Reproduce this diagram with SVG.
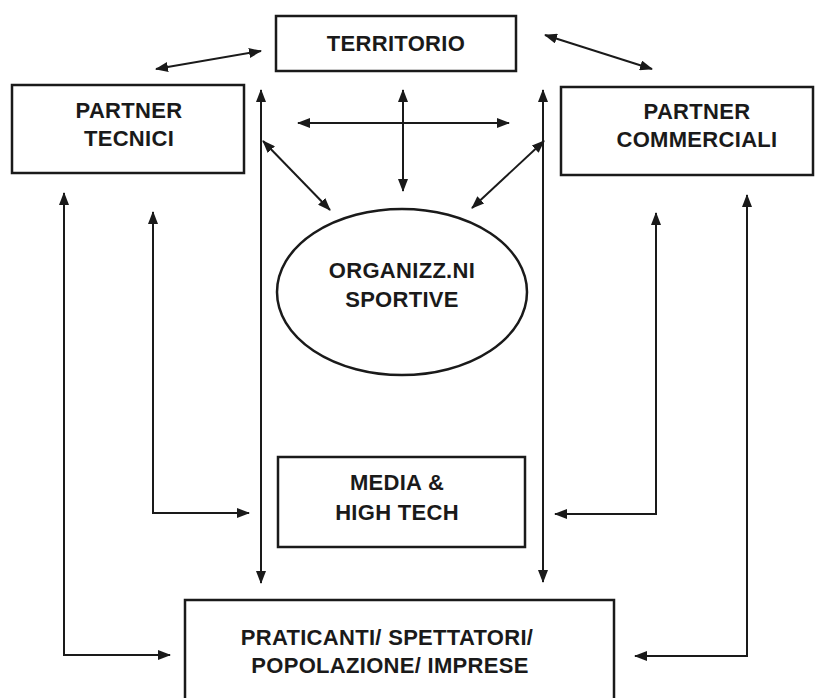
<svg xmlns="http://www.w3.org/2000/svg" width="817" height="698" viewBox="0 0 817 698">
<style>
.box{fill:#fff;stroke:#1a1a1a;stroke-width:2.5}
.lbl{font-family:"Liberation Sans",Arial,sans-serif;font-weight:bold;font-size:22px;fill:#1a1a1a;text-anchor:middle;letter-spacing:0.3px}
.c{fill:none;stroke:#1a1a1a;stroke-width:2}
</style>
<defs>
<marker id="ah" markerUnits="userSpaceOnUse" markerWidth="13" markerHeight="10" refX="12" refY="5" orient="auto-start-reverse">
<path d="M0,0 L13,5 L0,10 z" fill="#1a1a1a"/>
</marker>
</defs>
<rect width="817" height="698" fill="#fff"/>
<g id="territorio">
<rect class="box" x="276" y="16" width="240" height="55"/>
<text class="lbl" x="396" y="51">TERRITORIO</text>
</g>
<g id="partner-tecnici">
<rect class="box" x="12" y="85" width="232" height="88"/>
<text class="lbl" x="129" y="118">PARTNER</text>
<text class="lbl" x="129" y="146">TECNICI</text>
</g>
<g id="partner-commerciali">
<rect class="box" x="561" y="87" width="252" height="88"/>
<text class="lbl" x="697" y="119">PARTNER</text>
<text class="lbl" x="697" y="147">COMMERCIALI</text>
</g>
<g id="organizzazioni">
<ellipse class="box" cx="402" cy="292" rx="125" ry="83"/>
<text class="lbl" x="402" y="278">ORGANIZZ.NI</text>
<text class="lbl" x="402" y="307">SPORTIVE</text>
</g>
<g id="media">
<rect class="box" x="278" y="457" width="247" height="90"/>
<text class="lbl" x="397" y="490">MEDIA &amp;</text>
<text class="lbl" x="397" y="520">HIGH TECH</text>
</g>
<g id="praticanti">
<rect class="box" x="185" y="600" width="429" height="110"/>
<text class="lbl" x="387" y="645">PRATICANTI/ SPETTATORI/</text>
<text class="lbl" x="390" y="673">POPOLAZIONE/ IMPRESE</text>
</g>
<g id="connectors">
<line class="c" x1="156" y1="69" x2="261" y2="51" marker-start="url(#ah)" marker-end="url(#ah)"/>
<line class="c" x1="545" y1="35" x2="652" y2="69" marker-start="url(#ah)" marker-end="url(#ah)"/>
<line class="c" x1="403" y1="90" x2="403" y2="191" marker-start="url(#ah)" marker-end="url(#ah)"/>
<line class="c" x1="298" y1="123" x2="509" y2="123" marker-start="url(#ah)" marker-end="url(#ah)"/>
<line class="c" x1="261" y1="90" x2="261" y2="583" marker-start="url(#ah)" marker-end="url(#ah)"/>
<line class="c" x1="543" y1="90" x2="543" y2="582" marker-start="url(#ah)" marker-end="url(#ah)"/>
<line class="c" x1="263" y1="141" x2="330" y2="210" marker-start="url(#ah)" marker-end="url(#ah)"/>
<line class="c" x1="544" y1="141" x2="472" y2="208" marker-start="url(#ah)" marker-end="url(#ah)"/>
<polyline class="c" points="64,193 64,655 170,655" marker-start="url(#ah)" marker-end="url(#ah)"/>
<polyline class="c" points="153,212 153,513 249,513" marker-start="url(#ah)" marker-end="url(#ah)"/>
<polyline class="c" points="656,213 656,514 555,514" marker-start="url(#ah)" marker-end="url(#ah)"/>
<polyline class="c" points="747,195 747,656 635,656" marker-start="url(#ah)" marker-end="url(#ah)"/>
</g>
</svg>
